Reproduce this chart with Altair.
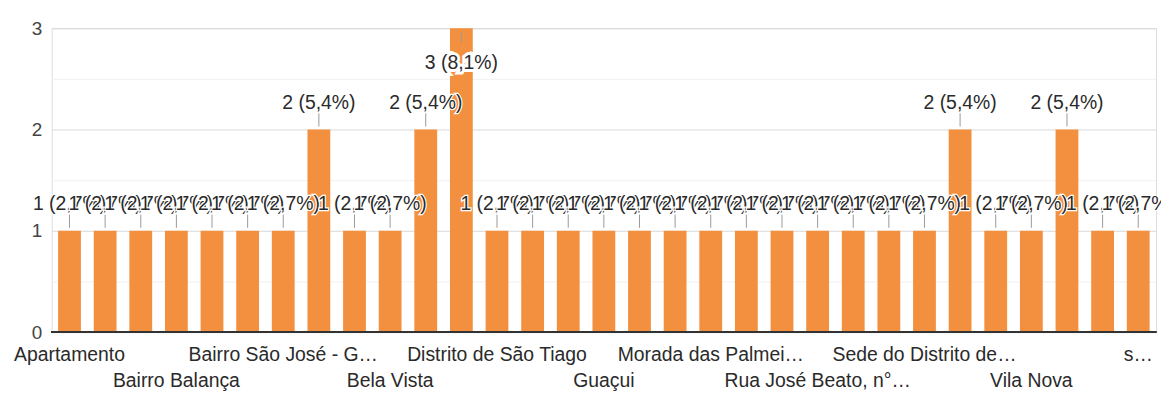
import altair as alt
import pandas as pd

categories = [
    "Apartamento", "Bairro", "Bairro Alto", "Bairro Balança", "Bairro Centro",
    "Bairro Novo", "Bairro São José - G…", "Barra", "Barreiro", "Bela Vista",
    "Centro", "Distrito", "Distrito de São Tiago", "Fazenda", "Glória",
    "Guaçui", "Jardim", "Lagoa", "Morada das Palmei…", "Nova Era",
    "Perobas", "Rua José Beato, n°…", "Rural", "São Pedro", "Sede do Distrito de…",
    "Serra", "Sítio", "Vila Nova", "Zona Rural", "centro", "s…",
]
counts = [1, 1, 1, 1, 1, 1, 1, 2, 1, 1, 2, 3, 1, 1, 1, 1, 1, 1, 1, 1,
          1, 1, 1, 1, 1, 2, 1, 1, 2, 1, 1]
shown_row1 = ["Apartamento", "Bairro São José - G…", "Distrito de São Tiago",
              "Morada das Palmei…", "Sede do Distrito de…", "s…"]
shown_row2 = ["Bairro Balança", "Bela Vista", "Guaçui", "Rua José Beato, n°…",
              "Vila Nova"]

total = sum(counts)
labels = [f"{c} ({c / total * 100:.1f}%)".replace(".", ",") for c in counts]
df = pd.DataFrame({"cat": categories, "v": counts, "lab": labels,
                   "i": list(range(len(categories)))})

FONT = "Liberation Sans"
ORANGE = "#F3903F"
maxv = max(counts)
FS = 19.5

row2_js = "[" + ",".join("'" + s.replace("'", "\\'") + "'" for s in shown_row2) + "]"

x = alt.X(
    "cat:N", sort=None, title=None,
    scale=alt.Scale(paddingInner=0.36, paddingOuter=0.18),
    axis=alt.Axis(
        values=shown_row1 + shown_row2,
        labelExpr=f"indexof({row2_js}, datum.value) >= 0 ? ['', datum.label] : datum.label",
        labelAngle=0, labelFontSize=FS, labelFont=FONT, labelColor="#2a2a2a",
        labelPadding=14, labelLineHeight=26, labelOverlap=False, labelLimit=0,
        labelBound=False, labelFlush=False, labelBaseline="top",
        ticks=False, domain=False, grid=False,
    ),
)
y = alt.Y(
    "v:Q", title=None,
    scale=alt.Scale(domain=[0, 3], nice=False),
    axis=alt.Axis(
        values=[0, 0.5, 1, 1.5, 2, 2.5, 3],
        labelExpr="datum.value % 1 ? '' : format(datum.value, 'd')",
        labelFontSize=19, labelFont=FONT, labelColor="#444", labelPadding=10,
        ticks=False, domain=False,
        gridColor={"expr": "datum.value % 1 ? '#f1f1f1' : '#d9d9d9'"},
        gridWidth=1,
    ),
)

base = alt.Chart(df)

bars = base.mark_bar(color=ORANGE).encode(x=x, y=y)

baseline = base.mark_rule(color="#333", strokeWidth=2).encode(
    x=alt.value(0), x2=alt.value(1112), y=alt.value(306)
)

stems = base.transform_calculate(
    s1=f"datum.v >= {maxv} ? datum.v - 0.04 : datum.v + 0.03",
    s2=f"datum.v >= {maxv} ? datum.v - 0.14 : datum.v + 0.16",
).mark_rule(color="#999", strokeWidth=1).encode(
    x=alt.X("cat:N", sort=None), y="s1:Q", y2="s2:Q"
)

xs = alt.X("cat:N", sort=None)
label_layers = []
for k, val in enumerate(counts):
    top = val >= maxv
    dy = 35 if top else -27
    sub = base.transform_filter(f"datum.i == {k}")
    label_layers.append(
        sub.mark_text(dy=dy, fontSize=FS, font=FONT, color="white",
                      stroke="white", strokeWidth=6 if top else 2.5).encode(
            x=xs, y="v:Q", text="lab:N")
    )
    label_layers.append(
        sub.mark_text(dy=dy, fontSize=FS, font=FONT, color="#2a2a2a").encode(
            x=xs, y="v:Q", text="lab:N")
    )

chart = alt.layer(
    bars, baseline, stems, *label_layers
).properties(
    width=1112, height=306,
    autosize=alt.AutoSizeParams(type="none"),
    padding={"left": 44, "top": 19, "right": 5, "bottom": 66},
).configure_view(stroke=None).configure(background="white")

chart.save("out.html", embed_options={"renderer": "svg", "actions": False})
